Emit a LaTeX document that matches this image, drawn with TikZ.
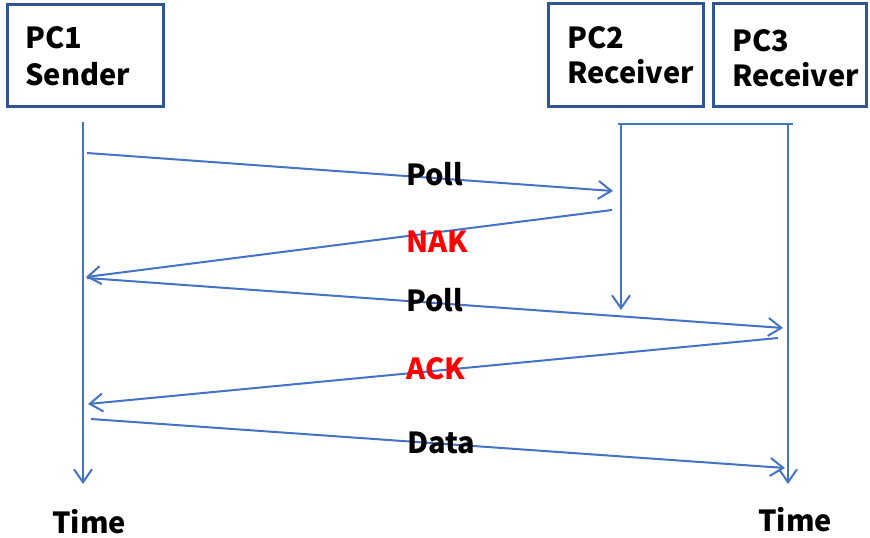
\documentclass[tikz,border=0pt]{standalone}
\usepackage{fontspec}
\setmainfont{Noto Sans CJK SC}
\usetikzlibrary{arrows.meta}
\definecolor{boxblue}{HTML}{2F5597}
\definecolor{lineblue}{HTML}{4472C4}
\begin{document}
\begin{tikzpicture}[x=1pt,y=-1pt,
  pcbox/.style={draw=boxblue,line width=3pt,inner sep=0pt,anchor=north west},
  txt/.style={font=\bfseries\fontsize{29}{35}\selectfont,inner sep=0pt,anchor=base west},
  life/.style={draw=lineblue,line width=2pt},
  msg/.style={draw=lineblue,line width=2pt,-{Straight Barb[length=13pt,width=18pt,line width=2pt]}},
  redt/.style={txt,text=red}]
\useasboundingbox (0,0) rectangle (870,538);
% boxes
\node[pcbox,minimum width=156pt,minimum height=102pt] (b1) at (6,3) {};
\node[pcbox,minimum width=155pt,minimum height=103pt] (b2) at (547,2) {};
\node[pcbox,minimum width=153pt,minimum height=103pt] (b3) at (712,2) {};
\node[txt] (t1a) at (25,48) {PC1};
\node[txt] (t1b) at (25,85) {Sender};
\node[txt] (t2a) at (567,48) {PC2};
\node[txt] (t2b) at (567,83) {Receiver};
\node[txt] (t3a) at (732,51) {PC3};
\node[txt] (t3b) at (732,86) {Receiver};
% lifeline coordinates
\coordinate (l1t) at (83,122);
\coordinate (l1b) at (83,484);
\coordinate (l2t) at (621,124);
\coordinate (l2b) at (621,310);
\coordinate (hl) at (618,124);
\coordinate (hr) at (793,124);
\coordinate (l3t) at (788,124);
\coordinate (l3b) at (788,484);
\draw[msg] (l1t) -- (l1b);
\draw[msg] (l2t) -- (l2b);
\draw[life] (hl) -- (hr);
\draw[msg] (l3t) -- (l3b);
% message endpoints
\coordinate (p1s) at (87,153); \coordinate (p1e) at (613,191);
\coordinate (n1s) at (612,210); \coordinate (n1e) at (86,277);
\coordinate (p2s) at (87,278); \coordinate (p2e) at (783,328);
\coordinate (a1s) at (778,338); \coordinate (a1e) at (88,404);
\coordinate (d1s) at (91,419); \coordinate (d1e) at (785,468);
\draw[msg] (p1s) -- (p1e);
\draw[msg] (n1s) -- (n1e);
\draw[msg] (p2s) -- (p2e);
\draw[msg] (a1s) -- (a1e);
\draw[msg] (d1s) -- (d1e);
% labels
\node[txt] (poll1) at (406,185) {Poll};
\node[redt] (nak) at (406,252) {NAK};
\node[txt] (poll2) at (406,311) {Poll};
\node[redt] (ack) at (406,379) {ACK};
\node[txt] (data) at (407,453) {Data};
\node[txt] (time1) at (52,533) {Time};
\node[txt] (time2) at (758,531) {Time};
\end{tikzpicture}
\end{document}
